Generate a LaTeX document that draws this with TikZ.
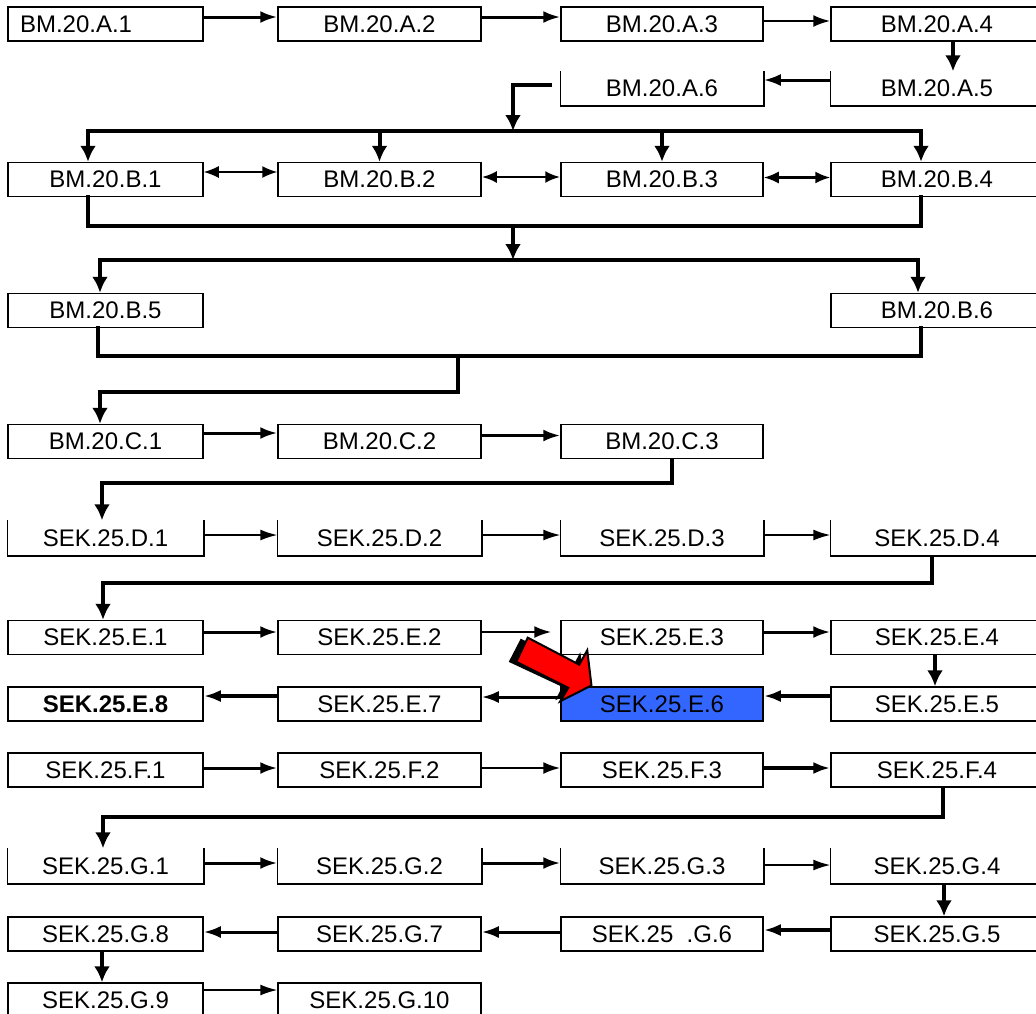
\documentclass[tikz,border=0pt]{standalone}
\usepackage{fontspec}
\setmainfont{Liberation Sans}
\usetikzlibrary{arrows.meta}
\definecolor{current}{HTML}{3366FF}
\definecolor{pointer}{HTML}{FF0000}
\tikzset{
  stage/.style={draw=black,line width=1.5pt,minimum height=34pt,inner sep=0pt,font=\fontsize{24}{28}\selectfont},
  colone/.style={stage,minimum width=195pt},
  coltwo/.style={stage,minimum width=203pt},
  colthree/.style={stage,minimum width=202pt},
  colfour/.style={stage,minimum width=212pt},
  opentop/.style={draw=none},
  flow/.style={-{Latex[length=17pt,width=12pt]},line width=3pt},
  thinflow/.style={-{Latex[length=17pt,width=11pt]},line width=1.5pt},
  twoway/.style={{Latex[length=15pt,width=12pt]}-{Latex[length=15pt,width=12pt]},line width=2.8pt},
  thintwoway/.style={twoway,line width=1.5pt},
  drop/.style={-{Latex[length=16pt,width=16pt]},line width=4pt},
  bus/.style={line width=4pt,line cap=rect},
}
\newcommand{\openside}[1]{\draw[line width=1.5pt] (#1.north west) -- (#1.south west) -- (#1.south east) -- (#1.north east);}

\begin{document}
\begin{tikzpicture}[x=1pt,y=-1pt]
\path[use as bounding box,fill=white] (0,0) rectangle (1036,1013);

% BM.20.A
\node[colone,text width=171pt,inner xsep=12pt,align=left] (bmA1) at (105.5,24) {BM.20.A.1};
\node[coltwo] (bmA2) at (379.5,24) {BM.20.A.2};
\node[colthree] (bmA3) at (662,24) {BM.20.A.3};
\node[colfour] (bmA4) at (937,24) {BM.20.A.4};
\node[colthree,opentop,minimum height=33pt] (bmA6) at (662,88.5) {BM.20.A.6};
\node[colfour,opentop,minimum height=33pt] (bmA5) at (937,88.5) {BM.20.A.5};
\openside{bmA6}
\openside{bmA5}

% BM.20.B
\node[colone] (bmB1) at (105.5,179.5) {BM.20.B.1};
\node[coltwo] (bmB2) at (379.5,179.5) {BM.20.B.2};
\node[colthree] (bmB3) at (662,179.5) {BM.20.B.3};
\node[colfour] (bmB4) at (937,179.5) {BM.20.B.4};
\node[colone] (bmB5) at (105.5,310.5) {BM.20.B.5};
\node[colfour] (bmB6) at (937,310.5) {BM.20.B.6};

% BM.20.C
\node[colone] (bmC1) at (105.5,441.5) {BM.20.C.1};
\node[coltwo] (bmC2) at (379.5,441.5) {BM.20.C.2};
\node[colthree] (bmC3) at (662,441.5) {BM.20.C.3};

% SEK.25.D
\node[colone,opentop] (sekD1) at (105.5,538) {SEK.25.D.1};
\node[coltwo,opentop] (sekD2) at (379.5,538) {SEK.25.D.2};
\node[colthree,opentop] (sekD3) at (662,538) {SEK.25.D.3};
\node[colfour,opentop] (sekD4) at (937,538) {SEK.25.D.4};
\openside{sekD1}
\openside{sekD2}
\openside{sekD3}
\openside{sekD4}

% SEK.25.E
\node[colone] (sekE1) at (105.5,637.5) {SEK.25.E.1};
\node[coltwo] (sekE2) at (379.5,637.5) {SEK.25.E.2};
\node[colthree] (sekE3) at (662,637.5) {SEK.25.E.3};
\node[colfour] (sekE4) at (937,637.5) {SEK.25.E.4};
\node[colone,font=\fontsize{24}{28}\selectfont\bfseries] (sekE8) at (105.5,704) {SEK.25.E.8};
\node[coltwo] (sekE7) at (379.5,704) {SEK.25.E.7};
\node[colthree,fill=current] (sekE6) at (662,704) {SEK.25.E.6};
\node[colfour] (sekE5) at (937,704) {SEK.25.E.5};

% SEK.25.F
\node[colone] (sekF1) at (105.5,770) {SEK.25.F.1};
\node[coltwo] (sekF2) at (379.5,770) {SEK.25.F.2};
\node[colthree] (sekF3) at (662,770) {SEK.25.F.3};
\node[colfour] (sekF4) at (937,770) {SEK.25.F.4};

% SEK.25.G
\node[colone,opentop] (sekG1) at (105.5,866) {SEK.25.G.1};
\node[coltwo,opentop] (sekG2) at (379.5,866) {SEK.25.G.2};
\node[colthree,opentop] (sekG3) at (662,866) {SEK.25.G.3};
\node[colfour,opentop] (sekG4) at (937,866) {SEK.25.G.4};
\openside{sekG1}
\openside{sekG2}
\openside{sekG3}
\openside{sekG4}
\node[colone] (sekG8) at (105.5,934) {SEK.25.G.8};
\node[coltwo] (sekG7) at (379.5,934) {SEK.25.G.7};
\node[colthree] (sekG6) at (662,934) {SEK.25\ \ .G.6};
\node[colfour] (sekG5) at (937,934) {SEK.25.G.5};
\node[colone] (sekG9) at (105.5,1000) {SEK.25.G.9};
\node[coltwo] (sekG10) at (379.5,1000) {SEK.25.G.10};

% A arrows
\draw[flow] ([yshift=7pt]bmA1.east) -- ([yshift=7pt]bmA2.west);
\draw[flow] ([yshift=7pt]bmA2.east) -- ([yshift=7pt]bmA3.west);
\draw[flow,line width=2.3pt] ([yshift=3pt]bmA3.east) -- ([yshift=3pt]bmA4.west);
\draw[drop] ([xshift=16pt]bmA4.south) -- ([xshift=16pt]bmA5.north);
\draw[flow] ([yshift=8.5pt]bmA5.west) -- ([yshift=8.5pt]bmA6.east);

% split into B
\coordinate (busB) at (513,131);
\draw[drop] ([xshift=-8pt,yshift=3.5pt]bmA6.west) -| (busB);
\coordinate (b1in) at ([xshift=-17.5pt]bmB1.north);
\coordinate (b2in) at (bmB2.north);
\coordinate (b3in) at (bmB3.north);
\coordinate (b4in) at ([xshift=-16pt]bmB4.north);
\draw[bus] (b1in |- busB) -- (b4in |- busB);
\draw[drop] (b1in |- busB) -- (b1in);
\draw[drop] (b2in |- busB) -- (b2in);
\draw[drop] (b3in |- busB) -- (b3in);
\draw[drop] (b4in |- busB) -- (b4in);
\draw[thintwoway] ([yshift=7.5pt]bmB1.east) -- ([yshift=7.5pt]bmB2.west);
\draw[twoway] ([yshift=2.5pt]bmB2.east) -- ([yshift=2.5pt]bmB3.west);
\draw[twoway,line width=2.2pt] ([yshift=2pt]bmB3.east) -- ([yshift=2pt]bmB4.west);

% join B, split into B5/B6
\coordinate (joinB) at (513,226);
\draw[bus] ([xshift=-17.5pt]bmB1.south) |- (joinB) -| ([xshift=-16pt]bmB4.south);
\coordinate (busC) at (513,260);
\draw[drop] (joinB) -- (busC);
\coordinate (b5in) at ([xshift=-5.5pt]bmB5.north);
\coordinate (b6in) at ([xshift=-19pt]bmB6.north);
\draw[bus] (b5in |- busC) -- (b6in |- busC);
\draw[drop] (b5in |- busC) -- (b5in);
\draw[drop] (b6in |- busC) -- (b6in);

% join B5/B6 into C
\coordinate (joinC) at (458,356);
\draw[bus] ([xshift=-7.5pt]bmB5.south) |- (joinC) -| ([xshift=-16pt]bmB6.south);
\coordinate (turnC) at (458,392);
\draw[drop] (joinC) -- (turnC) -| ([xshift=-5.5pt]bmC1.north);

% C arrows
\draw[flow] ([yshift=8.5pt]bmC1.east) -- ([yshift=8.5pt]bmC2.west);
\draw[flow] ([yshift=6pt]bmC2.east) -- ([yshift=6pt]bmC3.west);
\draw[drop] ([xshift=10pt]bmC3.south) -- ++(0,24) -| ([xshift=-3.5pt]sekD1.north);

% D arrows
\draw[thinflow] ([yshift=3pt]sekD1.east) -- ([yshift=3pt]sekD2.west);
\draw[thinflow] ([yshift=3pt]sekD2.east) -- ([yshift=3pt]sekD3.west);
\draw[thinflow] ([yshift=3pt]sekD3.east) -- ([yshift=3pt]sekD4.west);
\draw[drop] ([xshift=-5pt]sekD4.south) -- ++(0,27) -| ([xshift=-2.5pt]sekE1.north);

% E arrows
\draw[flow] ([yshift=5.5pt]sekE1.east) -- ([yshift=5.5pt]sekE2.west);
\draw[flow,line width=2.3pt,shorten >=9pt] ([yshift=5.5pt]sekE2.east) -- ([yshift=5.5pt]sekE3.west);
\draw[flow] ([yshift=5.5pt]sekE3.east) -- ([yshift=5.5pt]sekE4.west);
\draw[drop] ([xshift=-2pt]sekE4.south) -- ([xshift=-2pt]sekE5.north);
\draw[flow,line width=3.5pt] ([yshift=8pt]sekE5.west) -- ([yshift=8pt]sekE6.east);
\draw[flow] ([yshift=7pt]sekE6.west) -- ([yshift=7pt]sekE7.east);
\draw[flow,line width=3.5pt] ([yshift=8pt]sekE7.west) -- ([yshift=8pt]sekE8.east);

% F arrows
\draw[flow] ([yshift=2pt]sekF1.east) -- ([yshift=2pt]sekF2.west);
\draw[flow,line width=2.3pt] ([yshift=2pt]sekF2.east) -- ([yshift=2pt]sekF3.west);
\draw[flow,line width=4pt] ([yshift=2pt]sekF3.east) -- ([yshift=2pt]sekF4.west);
\draw[drop] ([xshift=6pt]sekF4.south) -- ++(0,29) -| ([xshift=-2.5pt]sekG1.north);

% G arrows
\draw[flow] ([yshift=3pt]sekG1.east) -- ([yshift=3pt]sekG2.west);
\draw[flow] ([yshift=3pt]sekG2.east) -- ([yshift=3pt]sekG3.west);
\draw[thinflow] ([yshift=1pt]sekG3.east) -- ([yshift=1pt]sekG4.west);
\draw[drop] ([xshift=7pt]sekG4.south) -- ([xshift=7pt]sekG5.north);
\draw[flow,line width=3.5pt] ([yshift=4pt]sekG5.west) -- ([yshift=4pt]sekG6.east);
\draw[flow] ([yshift=2pt]sekG6.west) -- ([yshift=2pt]sekG7.east);
\draw[flow] ([yshift=2pt]sekG7.west) -- ([yshift=2pt]sekG8.east);
\draw[drop] ([xshift=-3.5pt]sekG8.south) -- ([xshift=-3.5pt]sekG9.north);
\draw[thinflow] ([yshift=10pt]sekG9.east) -- ([yshift=10pt]sekG10.west);

% pointer to the current step
\begin{scope}[shift={(sekE6.north west)}]
\fill[black] (-39.5,-47.6) -- (13,-20.6) -- (20,-34) -- (25.2,-0.8) -- (-5,14) -- (2,0.6) -- (-51.5,-24.4) -- cycle;
\filldraw[fill=pointer,draw=black,line width=2pt] (-32.5,-48.6) -- (19,-21.6) -- (27,-36) -- (31.2,-0.8) -- (0,15) -- (8,1.6) -- (-44,-24.4) -- cycle;
\end{scope}

\end{tikzpicture}
\end{document}
